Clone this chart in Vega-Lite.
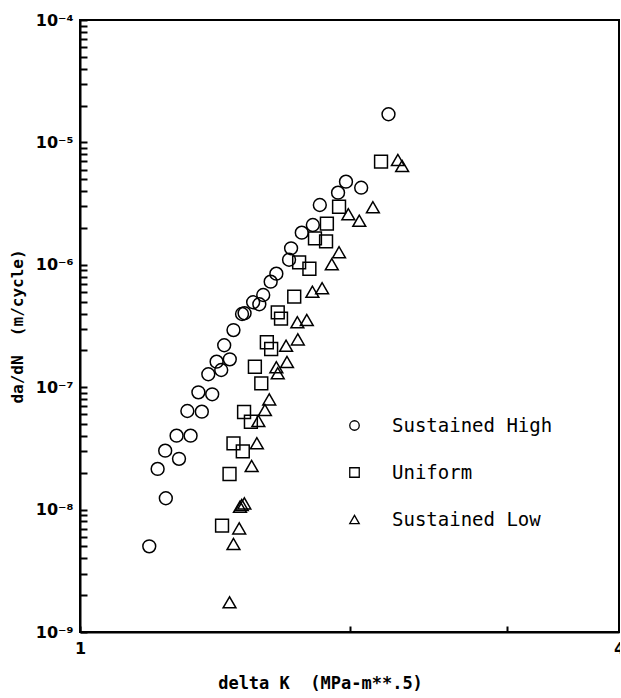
{
  "$schema": "https://vega.github.io/schema/vega-lite/v6.json",
  "autosize": {"type": "none"},
  "padding": {"left": 80, "top": 20, "right": 1, "bottom": 66},
  "width": 539,
  "height": 612,
  "background": "white",
  "config": {
    "view": {"stroke": "black", "strokeWidth": 2},
    "axis": {"grid": false, "ticks": true, "domainColor": "black", "domainWidth": 2, "tickColor": "black", "tickWidth": 2, "labelColor": "black", "titleColor": "black"}
  },
  "data": {"values": [
    {"dK": 2.211, "dadN": 1.697e-5, "series": "Sustained High"},
    {"dK": 1.982, "dadN": 4.775e-6, "series": "Sustained High"},
    {"dK": 1.942, "dadN": 3.883e-6, "series": "Sustained High"},
    {"dK": 2.061, "dadN": 4.265e-6, "series": "Sustained High"},
    {"dK": 1.853, "dadN": 3.08e-6, "series": "Sustained High"},
    {"dK": 1.820, "dadN": 2.114e-6, "series": "Sustained High"},
    {"dK": 1.769, "dadN": 1.83e-6, "series": "Sustained High"},
    {"dK": 1.721, "dadN": 1.364e-6, "series": "Sustained High"},
    {"dK": 1.712, "dadN": 1.1e-6, "series": "Sustained High"},
    {"dK": 1.657, "dadN": 8.46e-7, "series": "Sustained High"},
    {"dK": 1.633, "dadN": 7.28e-7, "series": "Sustained High"},
    {"dK": 1.602, "dadN": 5.67e-7, "series": "Sustained High"},
    {"dK": 1.586, "dadN": 4.76e-7, "series": "Sustained High"},
    {"dK": 1.561, "dadN": 4.94e-7, "series": "Sustained High"},
    {"dK": 1.527, "dadN": 4.02e-7, "series": "Sustained High"},
    {"dK": 1.517, "dadN": 3.96e-7, "series": "Sustained High"},
    {"dK": 1.484, "dadN": 2.93e-7, "series": "Sustained High"},
    {"dK": 1.449, "dadN": 2.2e-7, "series": "Sustained High"},
    {"dK": 1.470, "dadN": 1.69e-7, "series": "Sustained High"},
    {"dK": 1.421, "dadN": 1.616e-7, "series": "Sustained High"},
    {"dK": 1.438, "dadN": 1.382e-7, "series": "Sustained High"},
    {"dK": 1.391, "dadN": 1.275e-7, "series": "Sustained High"},
    {"dK": 1.356, "dadN": 9.08e-8, "series": "Sustained High"},
    {"dK": 1.405, "dadN": 8.75e-8, "series": "Sustained High"},
    {"dK": 1.318, "dadN": 6.39e-8, "series": "Sustained High"},
    {"dK": 1.368, "dadN": 6.31e-8, "series": "Sustained High"},
    {"dK": 1.282, "dadN": 4.02e-8, "series": "Sustained High"},
    {"dK": 1.329, "dadN": 4.02e-8, "series": "Sustained High"},
    {"dK": 1.245, "dadN": 3.03e-8, "series": "Sustained High"},
    {"dK": 1.290, "dadN": 2.6e-8, "series": "Sustained High"},
    {"dK": 1.221, "dadN": 2.15e-8, "series": "Sustained High"},
    {"dK": 1.247, "dadN": 1.237e-8, "series": "Sustained High"},
    {"dK": 1.195, "dadN": 5.01e-9, "series": "Sustained High"},
    {"dK": 2.169, "dadN": 6.96e-6, "series": "Uniform"},
    {"dK": 1.947, "dadN": 2.98e-6, "series": "Uniform"},
    {"dK": 1.887, "dadN": 2.17e-6, "series": "Uniform"},
    {"dK": 1.830, "dadN": 1.646e-6, "series": "Uniform"},
    {"dK": 1.883, "dadN": 1.556e-6, "series": "Uniform"},
    {"dK": 1.757, "dadN": 1.048e-6, "series": "Uniform"},
    {"dK": 1.804, "dadN": 9.29e-7, "series": "Uniform"},
    {"dK": 1.735, "dadN": 5.49e-7, "series": "Uniform"},
    {"dK": 1.663, "dadN": 4.09e-7, "series": "Uniform"},
    {"dK": 1.677, "dadN": 3.63e-7, "series": "Uniform"},
    {"dK": 1.617, "dadN": 2.33e-7, "series": "Uniform"},
    {"dK": 1.635, "dadN": 2.05e-7, "series": "Uniform"},
    {"dK": 1.568, "dadN": 1.47e-7, "series": "Uniform"},
    {"dK": 1.594, "dadN": 1.076e-7, "series": "Uniform"},
    {"dK": 1.525, "dadN": 6.27e-8, "series": "Uniform"},
    {"dK": 1.552, "dadN": 5.22e-8, "series": "Uniform"},
    {"dK": 1.484, "dadN": 3.48e-8, "series": "Uniform"},
    {"dK": 1.520, "dadN": 2.99e-8, "series": "Uniform"},
    {"dK": 1.469, "dadN": 1.953e-8, "series": "Uniform"},
    {"dK": 1.441, "dadN": 7.39e-9, "series": "Uniform"},
    {"dK": 2.265, "dadN": 7.18e-6, "series": "Sustained Low"},
    {"dK": 2.290, "dadN": 6.42e-6, "series": "Sustained Low"},
    {"dK": 2.124, "dadN": 2.95e-6, "series": "Sustained Low"},
    {"dK": 1.994, "dadN": 2.59e-6, "series": "Sustained Low"},
    {"dK": 2.051, "dadN": 2.29e-6, "series": "Sustained Low"},
    {"dK": 1.947, "dadN": 1.265e-6, "series": "Sustained Low"},
    {"dK": 1.911, "dadN": 1.01e-6, "series": "Sustained Low"},
    {"dK": 1.864, "dadN": 6.43e-7, "series": "Sustained Low"},
    {"dK": 1.818, "dadN": 6.03e-7, "series": "Sustained Low"},
    {"dK": 1.792, "dadN": 3.54e-7, "series": "Sustained Low"},
    {"dK": 1.749, "dadN": 3.39e-7, "series": "Sustained Low"},
    {"dK": 1.751, "dadN": 2.46e-7, "series": "Sustained Low"},
    {"dK": 1.699, "dadN": 2.18e-7, "series": "Sustained Low"},
    {"dK": 1.703, "dadN": 1.607e-7, "series": "Sustained Low"},
    {"dK": 1.657, "dadN": 1.454e-7, "series": "Sustained Low"},
    {"dK": 1.663, "dadN": 1.299e-7, "series": "Sustained Low"},
    {"dK": 1.627, "dadN": 7.96e-8, "series": "Sustained Low"},
    {"dK": 1.609, "dadN": 6.51e-8, "series": "Sustained Low"},
    {"dK": 1.582, "dadN": 5.3e-8, "series": "Sustained Low"},
    {"dK": 1.576, "dadN": 3.48e-8, "series": "Sustained Low"},
    {"dK": 1.555, "dadN": 2.27e-8, "series": "Sustained Low"},
    {"dK": 1.526, "dadN": 1.125e-8, "series": "Sustained Low"},
    {"dK": 1.516, "dadN": 1.09e-8, "series": "Sustained Low"},
    {"dK": 1.509, "dadN": 1.056e-8, "series": "Sustained Low"},
    {"dK": 1.506, "dadN": 7.03e-9, "series": "Sustained Low"},
    {"dK": 1.484, "dadN": 5.24e-9, "series": "Sustained Low"},
    {"dK": 1.469, "dadN": 1.748e-9, "series": "Sustained Low"}
  ]},
  "mark": {"type": "point", "filled": false, "stroke": "black", "strokeWidth": 1.5, "size": 165, "opacity": 1},
  "encoding": {
    "x": {
      "field": "dK", "type": "quantitative",
      "scale": {"type": "log", "domain": [1, 4], "nice": false},
      "axis": {
        "title": "delta K\u00a0\u00a0(MPa-m**.5)",
        "titleFont": "DejaVu Sans Mono", "titleFontSize": 17, "titleFontWeight": "bold",
        "titlePadding": 19, "titleX": 240,
        "values": [1, 2, 3, 4],
        "labelExpr": "datum.value == 1 ? '1' : (datum.value == 4 ? '4' : '')",
        "labelFont": "DejaVu Sans", "labelFontSize": 16, "labelFontWeight": "bold",
        "labelPadding": 14, "labelFlush": false, "labelOverlap": false,
        "tickSize": -6
      }
    },
    "y": {
      "field": "dadN", "type": "quantitative",
      "scale": {"type": "log", "domain": [1e-9, 1e-4], "nice": false},
      "axis": {
        "title": "da/dN\u00a0\u00a0(m/cycle)",
        "titleFont": "DejaVu Sans Mono", "titleFontSize": 16, "titleFontWeight": "bold",
        "titlePadding": 10,
        "values": [1e-9, 2e-9, 3e-9, 4e-9, 5e-9, 6e-9, 7e-9, 8e-9, 9e-9,
                   1e-8, 2e-8, 3e-8, 4e-8, 5e-8, 6e-8, 7e-8, 8e-8, 9e-8,
                   1e-7, 2e-7, 3e-7, 4e-7, 5e-7, 6e-7, 7e-7, 8e-7, 9e-7,
                   1e-6, 2e-6, 3e-6, 4e-6, 5e-6, 6e-6, 7e-6, 8e-6, 9e-6,
                   1e-5, 2e-5, 3e-5, 4e-5, 5e-5, 6e-5, 7e-5, 8e-5, 9e-5, 1e-4],
        "labelExpr": "abs(datum.value / pow(10, round(log(datum.value) / LN10)) - 1) < 1e-6 ? '10' + ['⁻⁹','⁻⁸','⁻⁷','⁻⁶','⁻⁵','⁻⁴'][round(log(datum.value) / LN10) + 9] : ''",
        "labelFont": "DejaVu Sans", "labelFontSize": 16, "labelFontWeight": "bold",
        "labelPadding": 14, "labelFlush": false, "labelOverlap": false,
        "tickSize": -7
      }
    },
    "shape": {
      "field": "series", "type": "nominal",
      "scale": {"domain": ["Sustained High", "Uniform", "Sustained Low"], "range": ["circle", "square", "triangle-up"]},
      "legend": {
        "title": null,
        "orient": "none",
        "legendX": 265,
        "legendY": 396,
        "padding": 0,
        "symbolSize": 90,
        "symbolStrokeColor": "black",
        "symbolFillColor": "transparent",
        "symbolStrokeWidth": 1.3,
        "labelFont": "DejaVu Sans Mono",
        "labelFontSize": 19,
        "labelColor": "black",
        "labelBaseline": "middle",
        "labelOffset": 28,
        "labelLimit": 0,
        "rowPadding": 27
      }
    }
  }
}
